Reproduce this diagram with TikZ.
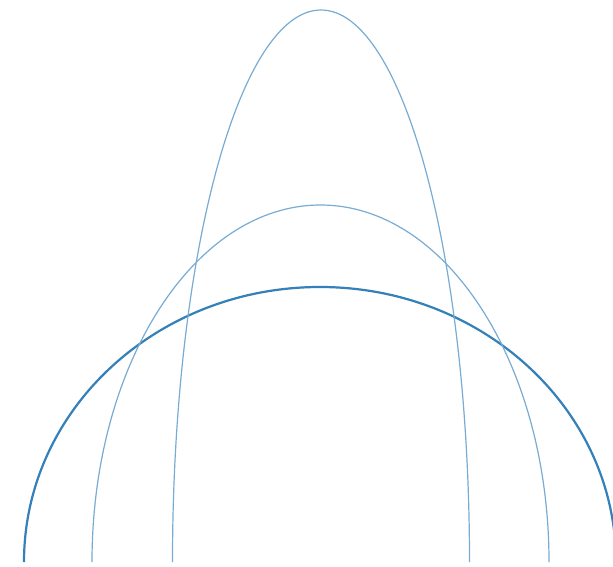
\documentclass[tikz,border=0pt]{standalone}
\begin{document}
\begin{tikzpicture}[x=1pt,y=1pt,
  thickarc/.style={draw={rgb,255:red,52;green,128;blue,184}, line width=2.2pt},
  thinarc/.style={draw={rgb,255:red,120;green,172;blue,210}, line width=1.2pt}]
\fill[white] (0,0) rectangle (613,566);
\useasboundingbox (0,0) rectangle (613,566);
\clip (0,0) rectangle (613,566);
% thick wide arc
\draw[thickarc] (24,4) arc[start angle=180, end angle=0, x radius=296, y radius=275];
% medium arch
\draw[thinarc] (92,4) arc[start angle=180, end angle=0, x radius=228.5, y radius=357];
% tall arch
\draw[thinarc] (172.5,4) arc[start angle=180, end angle=0, x radius=148.5, y radius=552];
\end{tikzpicture}
\end{document}
